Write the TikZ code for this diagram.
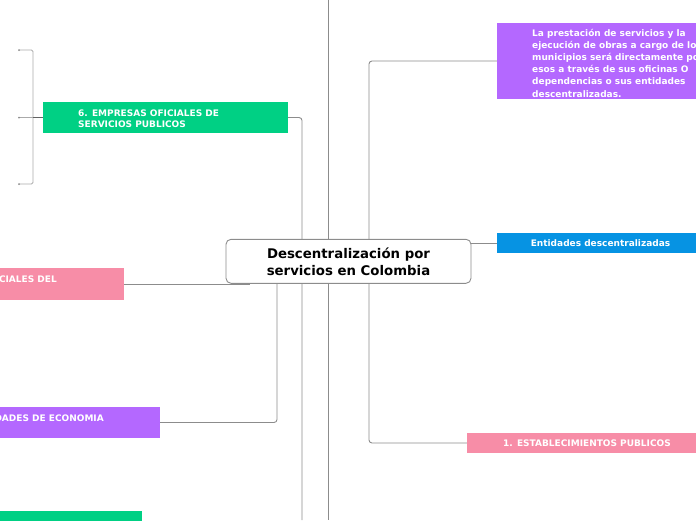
\documentclass[tikz,border=0pt]{standalone}
\usepackage{fontspec}
\setmainfont{DejaVu Sans}
\usetikzlibrary{backgrounds}
\definecolor{linegray}{RGB}{140,140,140}
\definecolor{bracketgray}{RGB}{170,170,170}
\definecolor{mmgreen}{RGB}{0,208,132}
\definecolor{mmpurple}{RGB}{180,104,255}
\definecolor{mmpink}{RGB}{247,141,167}
\definecolor{mmblue}{RGB}{6,147,227}
\begin{document}
\begin{tikzpicture}[x=1pt,y=-1pt]
\useasboundingbox (0,0) rectangle (696,520);
\tikzset{
  conn/.style={draw=linegray, line width=0.9pt, rounded corners=3pt},
  brk/.style={draw=bracketgray, line width=0.9pt},
  box/.style={anchor=north west, inner sep=0pt, outer sep=0pt},
  txt/.style={anchor=north west, inner sep=0pt, text=white, align=left,
    font=\fontsize{9}{12.2}\selectfont\bfseries},
  ctxt/.style={inner sep=0pt, text=white,
    font=\fontsize{9}{11.3}\selectfont\bfseries},
  dotend/.style={fill=linegray, circle, inner sep=0pt, minimum size=2pt}
}
% central node
\node[draw=linegray, line width=0.9pt, rounded corners=5pt, fill=white,
  minimum width=245pt, minimum height=44pt, inner sep=0pt, align=center,
  font=\fontsize{13.3}{17}\selectfont\bfseries] (c) at (348.5,261.3)
  {Descentralización por\\servicios en Colombia};
% boxes
\node[box, fill=mmpurple, minimum width=210pt, minimum height=76pt] (prest) at (497,23) {};
\node[txt] (prestT) at (532,28.6) {La prestación de servicios y la\\ejecución de obras a cargo de los\\municipios será directamente por\\esos a través de sus oficinas O\\dependencias o sus entidades\\descentralizadas.};
\node[box, fill=mmblue, minimum width=210pt, minimum height=20pt] (ent) at (497,233) {};
\node[ctxt, anchor=center] (entT) at (600.5,243.5) {Entidades descentralizadas};
\node[box, fill=mmpink, minimum width=240pt, minimum height=20pt] (est) at (467,433) {};
\node[ctxt, anchor=center] (estT) at (587,443.5) {1. ESTABLECIMIENTOS PUBLICOS};
\node[box, fill=mmgreen, minimum width=245pt, minimum height=31pt] (emp) at (43,102) {};
\node[txt, font=\fontsize{9}{11.3}\selectfont\bfseries] (empT) at (78,109.4) {6. EMPRESAS OFICIALES DE\\SERVICIOS PUBLICOS};
\node[box, fill=mmpink, minimum width=124pt, minimum height=32pt] (ofic) at (0,268) {};
\node[txt, anchor=north east] (oficT) at (57,275.7) {CIALES DEL};
\node[box, fill=mmpurple, minimum width=160pt, minimum height=31pt] (soc) at (0,407) {};
\node[txt, anchor=north east] (socT) at (104,414.7) {DADES DE ECONOMIA};
\node[box, fill=mmgreen, minimum width=142pt, minimum height=20pt] (verde) at (0,511) {};
% coordinates
\coordinate (topA) at (328,0);
\coordinate (botA) at (328,520);
\coordinate (botB) at (302,520);
\coordinate (xr) at (369,0);
\coordinate (xl) at (250,0);
\coordinate (xs) at (277,283);
\coordinate (k1) at (19,50);
\coordinate (k2) at (19,117.5);
\coordinate (k3) at (19,184);
\coordinate (kx) at (33,0);
\begin{scope}[on background layer]
  \draw[conn] (topA) -- (botA);
  \draw[conn] (emp.east) -| (botB);
  \draw[conn] (prest.west) -| (xr |- est.west) -- (est.west);
  \draw[conn] (c.east |- ent.west) -- (ent.west);
  \draw[conn] (ofic.east) -- (ofic.east -| xl);
  \draw[conn] (xs) |- (soc.east);
  \draw[brk, rounded corners=1.5pt] (k1) -- (k1 -| kx) -- (k3 -| kx) -- (k3);
  \draw[brk] (k2) -- (k2 -| kx);
  \draw[draw=linegray!70!black, line width=1.2pt] (k2 -| kx) -- (emp.west);
\end{scope}
\node[dotend] (d1) at (k1) {};
\node[dotend] (d2) at (k2) {};
\node[dotend] (d3) at (k3) {};
\end{tikzpicture}
\end{document}
